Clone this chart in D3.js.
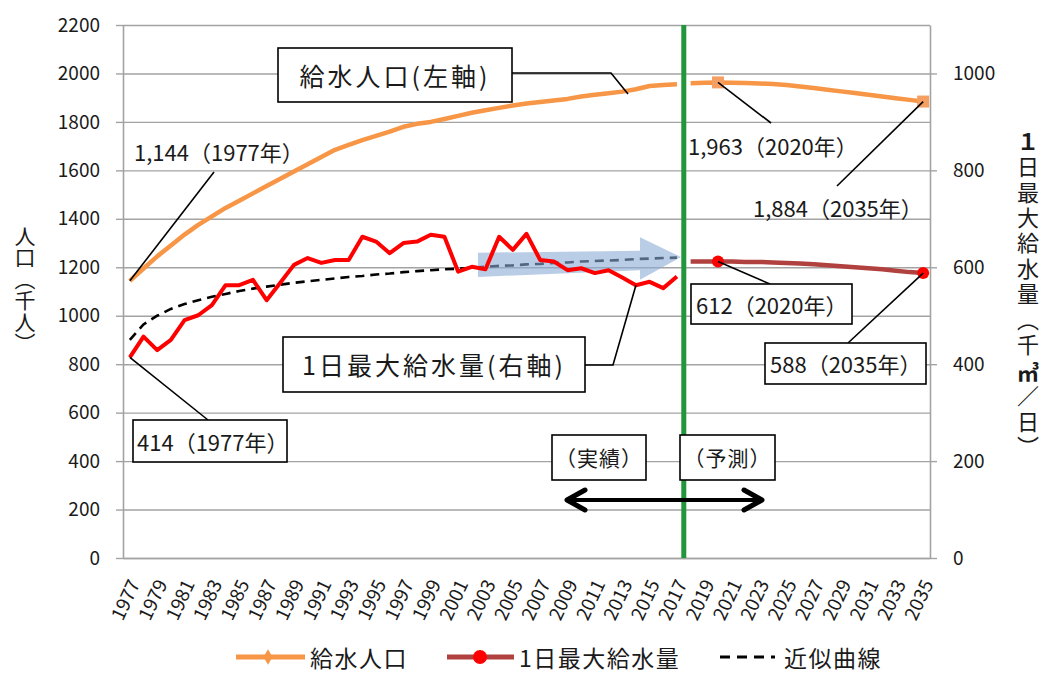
<!DOCTYPE html>
<html>
<head>
<meta charset="utf-8">
<script src="https://cdn.jsdelivr.net/npm/d3@7"></script>
<style>
  body { margin: 0; background: #fff; }
  text { font-family: "Noto Sans CJK JP", "Noto Sans", sans-serif; fill: #1a1a1a;
         text-spacing-trim: space-all; }
</style>
</head>
<body>
<svg id="chart" width="1046" height="673"></svg>
<script>
// ---- data -------------------------------------------------------------
const actualYears = [1977,1978,1979,1980,1981,1982,1983,1984,1985,1986,1987,1988,1989,1990,
  1991,1992,1993,1994,1995,1996,1997,1998,1999,2000,2001,2002,2003,2004,2005,2006,2007,
  2008,2009,2010,2011,2012,2013,2014,2015,2016,2017];
const forecastYears = [2018,2019,2020,2021,2022,2023,2024,2025,2026,2027,2028,2029,2030,
  2031,2032,2033,2034,2035];
const xTickLabels = ["1977","1979","1981","1983","1985","1987","1989","1991","1993","1995",
  "1997","1999","2001","2003","2005","2007","2009","2011","2013","2015","2017","2019","2021",
  "2023","2025","2027","2029","2031","2033","2035"];

// 給水人口 (千人) — left axis
const popActual = [1144,1195,1245,1290,1335,1375,1410,1445,1475,1505,1535,1565,1595,1625,
  1655,1685,1705,1725,1742,1760,1780,1792,1800,1812,1825,1838,1848,1858,1868,1876,1882,
  1888,1895,1905,1912,1918,1925,1935,1948,1952,1955];
const popForecast = [1960,1962,1963,1962,1961,1959,1956,1952,1946,1940,1933,1926,1919,1912,
  1905,1898,1891,1884];

// 1日最大給水量 (千㎥/日) — right axis
const waterActual = [414,457,429,450,491,501,522,563,563,574,532,568,605,619,609,615,615,
  663,653,629,650,653,667,663,591,601,596,663,636,669,615,612,594,598,588,594,579,563,570,
  557,581];
const waterForecast = [612,612,612,612,611,611,610,609,608,606,604,602,600,598,596,593,590,588];

// 近似曲線 (trend of the maximum daily supply)
const waterTrend = [450,482,500,514,524,532,539,545,551,556,560,564,568,571,574,577,580,
  582,585,587,590,592,594,596,597,599,601,603,604,606,607,609,610,612,613,614,615,617,618,
  619,620];

const leftTicks = [0,200,400,600,800,1000,1200,1400,1600,1800,2000,2200];
const rightTicks = [0,200,400,600,800,1000];

const years = actualYears.concat(forecastYears);
const popA = actualYears.map((y, i) => ({ year: y, v: popActual[i] }));
const popF = forecastYears.map((y, i) => ({ year: y, v: popForecast[i] }));
const watA = actualYears.map((y, i) => ({ year: y, v: waterActual[i] }));
const watF = forecastYears.map((y, i) => ({ year: y, v: waterForecast[i] }));
const trend = actualYears.map((y, i) => ({ year: y, v: waterTrend[i] }));

// ---- scales -----------------------------------------------------------
const L = 123, R = 930, T = 25, B = 558;
const svg = d3.select("#chart");
svg.append("rect").attr("width", 1046).attr("height", 673).attr("fill", "#fff");

const x = d3.scaleBand().domain(years).range([L, R]);
const xc = d => x(d) + x.bandwidth() / 2;
const yL = d3.scaleLinear().domain([0, 2200]).range([B, T]);
const yR = d3.scaleLinear().domain([0, 1100]).range([B, T]);
const xf = y => xc(1977) + (y - 1977) * x.step();   // fractional year position

const GRID = "#a3a3a3";
const plain = d3.format("d");

// gridlines
svg.append("g").attr("transform", `translate(${L},0)`)
  .call(d3.axisLeft(yL).tickValues(leftTicks).tickSize(-(R - L)).tickFormat(""))
  .call(g => g.select(".domain").remove())
  .call(g => g.selectAll("line").attr("stroke", GRID).attr("stroke-width", 1.4));

// left axis
svg.append("g").attr("transform", `translate(${L},0)`)
  .call(d3.axisLeft(yL).tickValues(leftTicks).tickFormat(plain)
    .tickSize(7).tickSizeOuter(0).tickPadding(16))
  .call(g => g.select(".domain").attr("stroke", GRID).attr("stroke-width", 1.6))
  .call(g => g.selectAll("line").attr("stroke", GRID).attr("stroke-width", 1.4))
  .call(g => g.selectAll("text").attr("font-size", 19).attr("font-family", null));

// right axis
svg.append("g").attr("transform", `translate(${R},0)`)
  .call(d3.axisRight(yR).tickValues(rightTicks).tickFormat(plain)
    .tickSize(7).tickSizeOuter(0).tickPadding(16))
  .call(g => g.select(".domain").attr("stroke", GRID).attr("stroke-width", 1.6))
  .call(g => g.selectAll("line").attr("stroke", GRID).attr("stroke-width", 1.4))
  .call(g => g.selectAll("text").attr("font-size", 19).attr("font-family", null));

// category axis
svg.append("g").attr("transform", `translate(0,${B})`)
  .call(d3.axisBottom(x).tickValues(years.filter(y => xTickLabels.includes(String(y))))
    .tickFormat(plain).tickSize(0).tickSizeOuter(0))
  .call(g => g.select(".domain").attr("stroke", GRID).attr("stroke-width", 1.6))
  .call(g => g.selectAll("text")
    .attr("font-size", 19).attr("font-family", null)
    .attr("x", 0).attr("y", 0).attr("dy", null)
    .attr("text-anchor", "end").attr("dominant-baseline", "central")
    .attr("transform", "translate(3,22) rotate(-65)"));

// ---- series -----------------------------------------------------------
const lineL = d3.line().x(d => xc(d.year)).y(d => yL(d.v));
const lineR = d3.line().x(d => xc(d.year)).y(d => yR(d.v));

const ORANGE = "#f79646", RED = "#ff0000", DARKRED = "#b0413e";

svg.append("path").datum(popA).attr("d", lineL).attr("fill", "none")
  .attr("stroke", ORANGE).attr("stroke-width", 4.5).attr("stroke-linejoin", "round");
svg.append("path").datum(popF).attr("d", lineL).attr("fill", "none")
  .attr("stroke", ORANGE).attr("stroke-width", 4.5).attr("stroke-linejoin", "round");

svg.append("path").datum(trend).attr("d", lineR).attr("fill", "none")
  .attr("stroke", "#000").attr("stroke-width", 2.6).attr("stroke-dasharray", "9,6");

// trend arrow (translucent blue), expressed in year / right-axis units
const arrowPts = [[2002.45, 630], [2014.3, 634], [2014.3, 662], [2017.3, 621],
  [2014.3, 574], [2014.3, 594], [2002.45, 580]];
svg.append("polygon")
  .attr("points", arrowPts.map(p => [xf(p[0]), yR(p[1])].join(",")).join(" "))
  .attr("fill", "#8aabd6").attr("opacity", 0.6);

svg.append("path").datum(watA).attr("d", lineR).attr("fill", "none")
  .attr("stroke", RED).attr("stroke-width", 4).attr("stroke-linejoin", "round");
svg.append("path").datum(watF).attr("d", lineR).attr("fill", "none")
  .attr("stroke", DARKRED).attr("stroke-width", 4.5).attr("stroke-linejoin", "round");

// highlighted points
const markYears = [2020, 2035];
svg.selectAll("rect.pm").data(popF.filter(d => markYears.includes(d.year))).join("rect")
  .attr("class", "pm")
  .attr("x", d => xc(d.year) - 6).attr("y", d => yL(d.v) - 6)
  .attr("width", 12).attr("height", 12).attr("fill", "#f5a062");
svg.selectAll("circle.wm").data(watF.filter(d => markYears.includes(d.year))).join("circle")
  .attr("class", "wm")
  .attr("cx", d => xc(d.year)).attr("cy", d => yR(d.v)).attr("r", 6).attr("fill", RED);

// boundary between actual and forecast
svg.append("line").attr("x1", x(2018)).attr("x2", x(2018)).attr("y1", T).attr("y2", B)
  .attr("stroke", "#23953a").attr("stroke-width", 5);

// ---- annotations -------------------------------------------------------
function leader(pts) {
  svg.append("polyline").attr("points", pts.map(p => p.join(",")).join(" "))
    .attr("fill", "none").attr("stroke", "#000").attr("stroke-width", 1.6);
}
function box(x0, y0, w, h) {
  svg.append("rect").attr("x", x0).attr("y", y0).attr("width", w).attr("height", h)
    .attr("fill", "#fff").attr("stroke", "#000").attr("stroke-width", 1.6);
}
function label(tx, ty, str, size, anchor, spacing) {
  return svg.append("text").attr("x", tx).attr("y", ty).attr("font-size", size)
    .attr("text-anchor", anchor || "start").attr("dominant-baseline", "central")
    .attr("letter-spacing", spacing || 0).text(str);
}

const pop = y => popActual.concat(popForecast)[years.indexOf(y)];
const wat = y => waterActual.concat(waterForecast)[years.indexOf(y)];

leader([[512, 73], [611, 73], [628, 94]]);
leader([[585, 365], [613, 365], [xc(2014), yR(wat(2014))]]);
leader([[xc(1977), yL(pop(1977))], [214, 172]]);
leader([[xc(1977), yR(wat(1977))], [208, 420]]);
leader([[xc(2020), yL(pop(2020))], [771, 123]]);
leader([[xc(2035), yL(pop(2035))], [837, 186]]);
leader([[xc(2020), yR(wat(2020))], [770, 284]]);
leader([[xc(2035), yR(wat(2035))], [848, 343]]);

box(278, 48, 234, 54);
label(395, 75, "給水人口(左軸)", 25, "middle", 3);
box(283, 337, 302, 55);
label(434, 364, "1日最大給水量(右軸)", 25, "middle", 3);

label(134, 151, "1,144（1977年）", 22);
label(688, 145, "1,963（2020年）", 22);
label(753, 207, "1,884（2035年）", 22);

box(133, 420, 154, 42);
label(137, 441, "414（1977年）", 22);
box(691, 284, 161, 40);
label(696, 304, "612（2020年）", 22);
box(765, 343, 161, 41);
label(770, 363, "588（2035年）", 22);

box(552, 435, 94, 45);
label(599, 457, "（実績）", 21, "middle", 1);
box(680, 435, 95, 45);
label(727.5, 457, "（予測）", 21, "middle", 1);

// actual ⟷ forecast span arrow
svg.append("line").attr("x1", 567).attr("x2", 762).attr("y1", 500).attr("y2", 500)
  .attr("stroke", "#000").attr("stroke-width", 4);
[[[585, 490], [567, 500], [585, 510]], [[744, 490], [762, 500], [744, 510]]].forEach(p =>
  svg.append("polyline").attr("points", p.map(q => q.join(",")).join(" "))
    .attr("fill", "none").attr("stroke", "#000").attr("stroke-width", 5)
    .attr("stroke-linecap", "round").attr("stroke-linejoin", "round"));

// ---- vertical axis titles (vertical presentation forms for the brackets) ----
function verticalTitle(cx, cy, parts, size, spacing) {
  const t = svg.append("text").attr("x", cx).attr("y", cy).attr("font-size", size)
    .attr("text-anchor", "middle")
    .style("writing-mode", "vertical-rl").style("text-orientation", "mixed")
    .style("letter-spacing", spacing + "px");
  parts.forEach(p => t.append("tspan").attr("font-weight", p.bold ? "bold" : null).text(p.s));
}
verticalTitle(25, 290, [{ s: "人口︵千人︶" }], 21, 0.5);
verticalTitle(1028, 296, [{ s: "１", bold: true }, { s: "日最大給水量︵千" },
  { s: "㎥", bold: true }, { s: "／日︶" }], 22, 3.4);

// ---- legend -----------------------------------------------------------
const LY = 657;
const lg = svg.append("g");
lg.append("line").attr("x1", 236).attr("x2", 305).attr("y1", LY).attr("y2", LY)
  .attr("stroke", ORANGE).attr("stroke-width", 5);
lg.append("path").attr("d", d3.symbol(d3.symbolDiamond, 70)())
  .attr("transform", `translate(268,${LY})`).attr("fill", ORANGE);
label(310, LY, "給水人口", 23, "start", 1.5);
lg.append("line").attr("x1", 447).attr("x2", 514).attr("y1", LY).attr("y2", LY)
  .attr("stroke", DARKRED).attr("stroke-width", 5);
lg.append("circle").attr("cx", 480).attr("cy", LY).attr("r", 7).attr("fill", RED);
label(519, LY, "1日最大給水量", 23, "start", 1.5);
lg.append("line").attr("x1", 720).attr("x2", 775).attr("y1", LY).attr("y2", LY)
  .attr("stroke", "#000").attr("stroke-width", 3).attr("stroke-dasharray", "10,7");
label(784, LY, "近似曲線", 23, "start", 1.5);
</script>
</body>
</html>
